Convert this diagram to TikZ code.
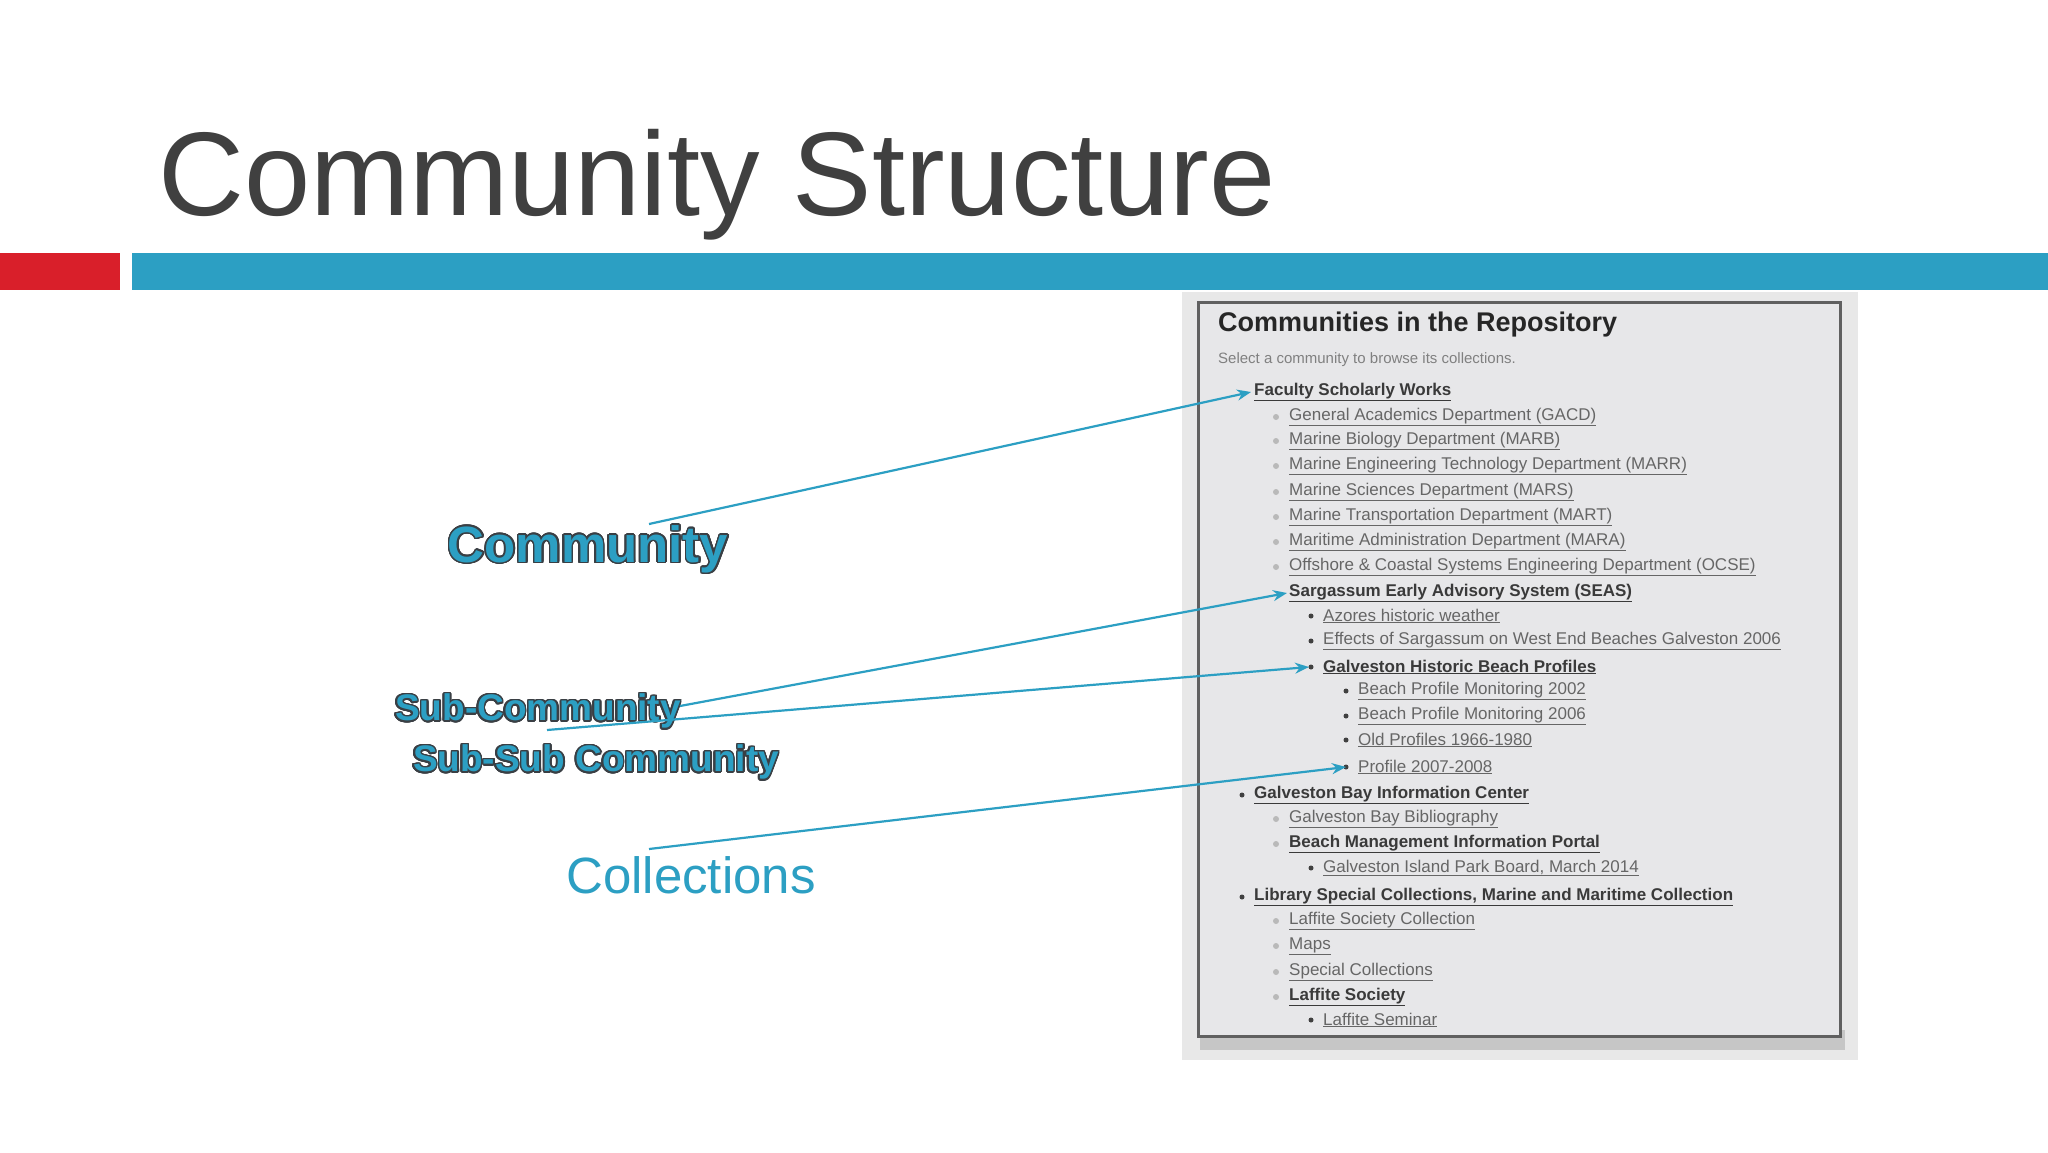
\documentclass[tikz,border=0pt]{standalone}
\usepackage{fontspec}
\setmainfont{Liberation Sans}
\usepackage{contour}
\contourlength{1.6pt}
\contournumber{24}
\usetikzlibrary{arrows.meta}
\definecolor{tblue}{HTML}{2C9FC3}
\definecolor{tred}{HTML}{D91F2A}
\definecolor{ttitle}{HTML}{404040}
\definecolor{tedge}{HTML}{3A3F44}
\definecolor{panelbg}{HTML}{E7E7E9}
\definecolor{linkc}{HTML}{666666}
\definecolor{boldc}{HTML}{3A3A3A}
\tikzset{
  lnk/.style={anchor=west,inner sep=0pt,font=\fontsize{17}{17}\selectfont,text=linkc},
  blnk/.style={anchor=west,inner sep=0pt,font=\fontsize{17}{17}\selectfont\bfseries,text=boldc},
  pointer/.style={draw=tblue,line width=2.2pt,-{Stealth[length=14pt,width=11pt]}},
  outl/.style={text=tblue,inner sep=0pt,font=\fontsize{#1}{#1}\selectfont\bfseries},
  bl1/.style={fill=gray!55,draw=none},
  bl2/.style={fill=black!75,draw=none}
}
\newcommand{\lk}[1]{\underline{#1}}
\begin{document}
\begin{tikzpicture}[x=1pt,y=-1pt]
\useasboundingbox[fill=white] (0,0) rectangle (2048,1152);
% title
\node[anchor=base west,inner sep=0pt,text=ttitle,font=\fontsize{119}{119}\selectfont] (title) at (158,215) {Community Structure};
% bars
\fill[tred] (0,253) rectangle (120,290);
\fill[tblue] (132,253) rectangle (2048,290);
% panel
\fill[gray!18] (1182,292) rectangle (1858,1060);
\fill[gray!45] (1200,1030) rectangle (1845,1050);
\fill[panelbg] (1196,300) rectangle (1842,1038);
\draw[gray!75!black,line width=3pt] (1198,302) rectangle (1840,1036);
\node[anchor=base west,inner sep=0pt,font=\fontsize{27}{27}\selectfont\bfseries,text=black!85] (ptitle) at (1218,331) {Communities in the Repository};
\node[anchor=base west,inner sep=0pt,font=\fontsize{15}{15}\selectfont,text=gray] (psub) at (1218,363) {Select a community to browse its collections.};
% list
\def\LA{1254}\def\LB{1289}\def\LC{1323}\def\LD{1358}
\node[blnk] (i0) at (\LA,392) {\lk{Faculty Scholarly Works}};
\node[lnk] (i1) at (\LB,417) {\lk{General Academics Department (GACD)}};
\node[lnk] (i2) at (\LB,441) {\lk{Marine Biology Department (MARB)}};
\node[lnk] (i3) at (\LB,466) {\lk{Marine Engineering Technology Department (MARR)}};
\node[lnk] (i4) at (\LB,492) {\lk{Marine Sciences Department (MARS)}};
\node[lnk] (i5) at (\LB,517) {\lk{Marine Transportation Department (MART)}};
\node[lnk] (i6) at (\LB,542) {\lk{Maritime Administration Department (MARA)}};
\node[lnk] (i7) at (\LB,567) {\lk{Offshore \& Coastal Systems Engineering Department (OCSE)}};
\node[blnk] (i8) at (\LB,593) {\lk{Sargassum Early Advisory System (SEAS)}};
\node[lnk] (i9) at (\LC,616) {\lk{Azores historic weather}};
\node[lnk] (i10) at (\LC,641) {\lk{Effects of Sargassum on West End Beaches Galveston 2006}};
\node[blnk] (i11) at (\LC,667) {\lk{Galveston Historic Beach Profiles}};
\node[lnk] (i12) at (\LD,691) {\lk{Beach Profile Monitoring 2002}};
\node[lnk] (i13) at (\LD,716) {\lk{Beach Profile Monitoring 2006}};
\node[lnk] (i14) at (\LD,740) {\lk{Old Profiles 1966-1980}};
\node[lnk] (i15) at (\LD,767) {\lk{Profile 2007-2008}};
\node[blnk] (i16) at (\LA,795) {\lk{Galveston Bay Information Center}};
\node[lnk] (i17) at (\LB,819) {\lk{Galveston Bay Bibliography}};
\node[blnk] (i18) at (\LB,844) {\lk{Beach Management Information Portal}};
\node[lnk] (i19) at (\LC,868) {\lk{Galveston Island Park Board, March 2014}};
\node[blnk] (i20) at (\LA,897) {\lk{Library Special Collections, Marine and Maritime Collection}};
\node[lnk] (i21) at (\LB,921) {\lk{Laffite Society Collection}};
\node[lnk] (i22) at (\LB,946) {\lk{Maps}};
\node[lnk] (i23) at (\LB,972) {\lk{Special Collections}};
\node[blnk] (i24) at (\LB,997) {\lk{Laffite Society}};
\node[lnk] (i25) at (\LC,1020) {\lk{Laffite Seminar}};
% bullets
\foreach \n in {1,2,3,4,5,6,7,17,18,21,22,23,24}{\fill[bl1] ([xshift=-13pt]i\n.west) circle (3pt);}
\foreach \n in {9,10,11,12,13,14,15,16,19,20,25}{\fill[bl2] ([xshift=-12pt]i\n.west) circle (2.5pt);}
% left labels
\node[outl=51] (lcom) at (588,550) {\contour{tedge}{Community}};
\node[outl=37] (lsub) at (538,712) {\contour{tedge}{Sub-Community}};
\node[outl=37] (lssub) at (596,763) {\contour{tedge}{Sub-Sub Community}};
\node[text=tblue,inner sep=0pt,font=\fontsize{51}{51}\selectfont] (lcol) at (691,875) {Collections};
% connectors
\coordinate (c1) at (649,524);
\coordinate (c2) at (680,706);
\coordinate (c3) at (547,730);
\coordinate (c4) at (649,849);
\draw[pointer] (c1) -- ([xshift=-3pt]i0.west);
\draw[pointer] (c2) -- ([xshift=-2pt]i8.west);
\draw[pointer] (c3) -- ([xshift=-14pt]i11.west);
\draw[pointer] (c4) -- ([xshift=-12pt]i15.west);
\end{tikzpicture}
\end{document}
